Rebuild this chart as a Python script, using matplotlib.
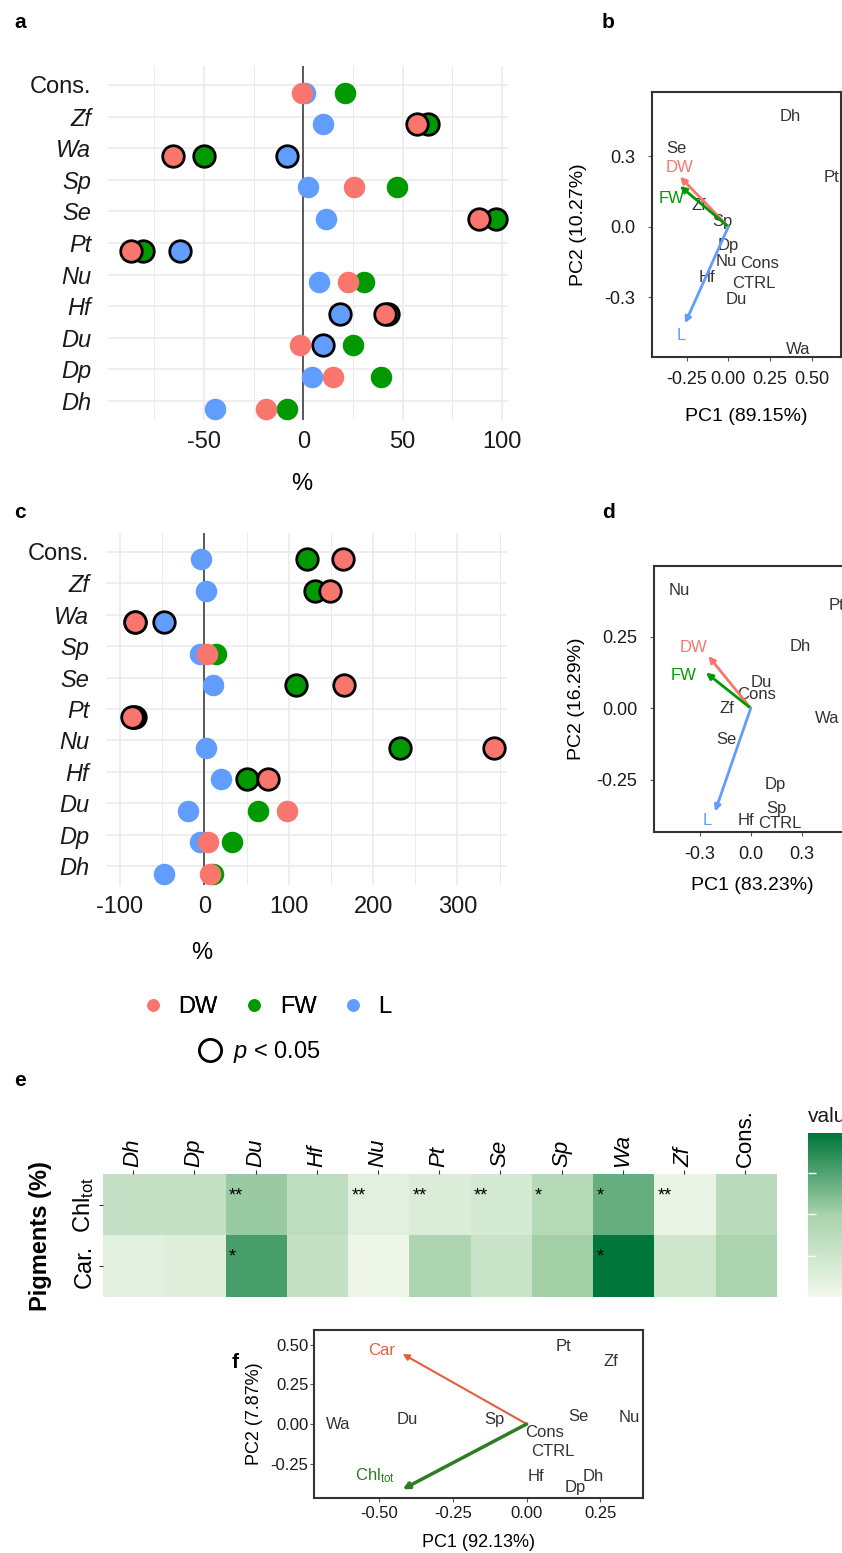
import numpy as np
import matplotlib.pyplot as plt
from matplotlib.colors import LinearSegmentedColormap
from matplotlib.lines import Line2D

plt.rcParams['font.family'] = ['Liberation Sans', 'DejaVu Sans']
plt.rcParams['mathtext.fontset'] = 'custom'
plt.rcParams['mathtext.rm'] = 'Liberation Sans'
plt.rcParams['mathtext.it'] = 'Liberation Sans:italic'
plt.rcParams['axes.unicode_minus'] = False

# ---- data ----
species = ['Dh', 'Dp', 'Du', 'Hf', 'Nu', 'Pt', 'Se', 'Sp', 'Wa', 'Zf', 'Cons.']

# panel a (% change)
a_dw = [-19, 14.8, -1.7, 41.3, 22.4, -86.7, 88.4, 25.3, -65.7, 57.3, -0.8]
a_fw = [-8.1, 39.1, 24.9, 42.4, 30.8, -80.8, 97.2, 47.2, -50.2, 62.8, 21.1]
a_l = [-44.6, 4.2, 9.8, 18.5, 8.1, -62.3, 11.3, 2.5, -8.1, 9.8, 0.9]
a_dw_sig = [0, 0, 0, 1, 0, 1, 1, 0, 1, 1, 0]
a_fw_sig = [0, 0, 0, 1, 0, 1, 1, 0, 1, 1, 0]
a_l_sig = [0, 0, 1, 1, 0, 1, 0, 0, 1, 0, 0]

# panel c (% change)
c_dw = [6.8, 4.8, 98.5, 75.2, 342.8, -86.1, 165, 3.6, -82.2, 149.1, 164.2]
c_fw = [10.7, 32.5, 64.1, 51, 231.3, -84, 108.4, 13.9, -82, 131.3, 122.2]
c_l = [-47.4, -5.1, -19.7, 19.4, 1.6, -82.2, 10.7, -5, -47.4, 1.6, -3.9]
c_dw_sig = [0, 0, 0, 1, 1, 1, 1, 0, 1, 1, 1]
c_fw_sig = [0, 0, 0, 1, 1, 1, 1, 0, 1, 1, 1]
c_l_sig = [0, 0, 0, 0, 0, 1, 0, 0, 1, 0, 0]

# panel b PCA
b_names = ['Dh', 'Se', 'Pt', 'Zf', 'Sp', 'Dp', 'Nu', 'Cons', 'Hf', 'CTRL', 'Du', 'Wa']
b_x = [0.37, -0.314, 0.62, -0.176, -0.034, 0.0, -0.014, 0.19, -0.13, 0.15, 0.046, 0.42]
b_y = [0.467, 0.333, 0.21, 0.088, 0.021, -0.081, -0.149, -0.156, -0.215, -0.24, -0.307, -0.52]
b_vars = ['DW', 'FW', 'L']
b_tip_x = [-0.29, -0.29, -0.26]
b_tip_y = [0.212, 0.173, -0.41]
b_lab_x = [-0.294, -0.34, -0.28]
b_lab_y = [0.252, 0.118, -0.46]

# panel d PCA
d_names = ['Nu', 'Pt', 'Dh', 'Du', 'Cons', 'Zf', 'Wa', 'Se', 'Dp', 'Sp', 'Hf', 'CTRL']
d_x = [-0.42, 0.504, 0.293, 0.064, 0.035, -0.14, 0.45, -0.14, 0.142, 0.149, -0.03, 0.172]
d_y = [0.412, 0.362, 0.216, 0.091, 0.047, -0.002, -0.037, -0.111, -0.269, -0.35, -0.392, -0.403]
d_vars = ['DW', 'FW', 'L']
d_tip_x = [-0.248, -0.262, -0.209]
d_tip_y = [0.183, 0.125, -0.362]
d_lab_x = [-0.336, -0.395, -0.252]
d_lab_y = [0.214, 0.114, -0.392]

# panel e heatmap
heat_cols = ['Dh', 'Dp', 'Du', 'Hf', 'Nu', 'Pt', 'Se', 'Sp', 'Wa', 'Zf', 'Cons.']
heat_rows = ['Chl$_{\\mathrm{tot}}$', 'Car.']
chl_vals = [24, 25, 43, 28, 8, 12, 16, 32, 55, 4, 30]
car_vals = [8, 10, 62, 24, 2, 37, 22, 41, 79, 20, 38]
chl_stars = ['', '', '**', '', '**', '**', '**', '*', '*', '**', '']
car_stars = ['', '', '*', '', '', '', '', '', '*', '', '']

# panel f PCA
f_names = ['Pt', 'Zf', 'Wa', 'Du', 'Sp', 'Se', 'Nu', 'Cons', 'CTRL', 'Hf', 'Dh', 'Dp']
f_x = [0.124, 0.286, -0.64, -0.404, -0.108, 0.177, 0.348, 0.062, 0.09, 0.03, 0.226, 0.166]
f_y = [0.487, 0.393, 0.0, 0.03, 0.03, 0.05, 0.042, -0.055, -0.175, -0.328, -0.328, -0.4]
f_vars = ['Car', 'Chl$_{\\mathrm{tot}}$']
f_tip_x = [-0.421, -0.421]
f_tip_y = [0.441, -0.411]
f_lab_x = [-0.492, -0.515]
f_lab_y = [0.466, -0.328]

C_DW, C_FW, C_L = '#F8766D', '#009A00', '#619CFF'

W, H = 842, 1553
fig = plt.figure(figsize=(W / 100, H / 100), dpi=100)


def box(l, t, r, b):
    return [l / W, 1 - b / H, (r - l) / W, (b - t) / H]


def dotplot(ax, dw, fw, l, dws, fws, ls, xlim, major, minor, labx, laby):
    y = np.arange(len(species))
    for vals, sig, col in [(l, ls, C_L), (fw, fws, C_FW), (dw, dws, C_DW)]:
        vals = np.array(vals, float)
        sig = np.array(sig, bool)
        ax.scatter(vals[~sig], y[~sig] - 0.24, s=240, color=col, lw=0, zorder=3)
        ax.scatter(vals[sig], y[sig] - 0.24, s=240, color=col, edgecolor='black', lw=2, zorder=3)
    ax.axvline(0, color='#4D4D4D', lw=1.3, zorder=2)
    ax.set_xlim(*xlim)
    ax.set_ylim(-0.6, len(species) - 0.4)
    ax.set_xticks(major)
    ax.set_xticks(minor, minor=True)
    ax.set_yticks(y)
    ax.set_yticklabels(species)
    for t in ax.get_yticklabels():
        if t.get_text() != 'Cons.':
            t.set_style('italic')
    ax.grid(which='major', color='#EBEBEB', lw=1.2)
    ax.grid(which='minor', axis='x', color='#EBEBEB', lw=0.7)
    ax.set_axisbelow(True)
    for s in ax.spines.values():
        s.set_visible(False)
    ax.tick_params(which='both', length=0, labelsize=17, colors='#1a1a1a')
    ax.tick_params(axis='x', pad=8)
    ax.tick_params(axis='y', pad=12)
    ax.set_xlabel('%', fontsize=17)
    ax.xaxis.set_label_coords(labx, laby)


def biplot(ax, names, px, py, vnames, tx, ty, lx, ly, vcols, xlim, ylim, xt, yt, xfmt, yfmt,
           xlab, ylab, xl_pos, yl_pos, fs, lws, tick_fs, xpad, ypad, title_fs):
    for n, x, y in zip(names, px, py):
        ax.text(x, y, n, ha='center', va='center', fontsize=fs, color='#333333')
    for n, x, y, a, b, c, lw in zip(vnames, tx, ty, lx, ly, vcols, lws):
        ax.annotate('', xy=(x, y), xytext=(0, 0),
                    arrowprops=dict(arrowstyle='-|>', color=c, lw=lw, mutation_scale=9,
                                    shrinkA=0, shrinkB=0))
        ax.text(a, b, n, ha='center', va='center', fontsize=fs, color=c)
    ax.set_xlim(*xlim)
    ax.set_ylim(*ylim)
    ax.set_xticks(xt)
    ax.set_yticks(yt)
    ax.set_xticklabels([xfmt % v for v in xt])
    ax.set_yticklabels([yfmt % v for v in yt])
    for s in ax.spines.values():
        s.set_linewidth(1.5)
        s.set_color('#333333')
    ax.tick_params(length=3, color='#555555', labelsize=tick_fs, labelcolor='#1a1a1a')
    ax.tick_params(axis='x', pad=xpad)
    ax.tick_params(axis='y', pad=ypad)
    ax.set_xlabel(xlab, fontsize=title_fs)
    ax.set_ylabel(ylab, fontsize=title_fs)
    ax.xaxis.set_label_coords(*xl_pos)
    ax.yaxis.set_label_coords(*yl_pos)


# panel a
ax_a = fig.add_axes(box(108, 66, 508, 420))
dotplot(ax_a, a_dw, a_fw, a_l, a_dw_sig, a_fw_sig, a_l_sig, (-98.4, 103.1),
        [-50, 0, 50, 100], [-75, -25, 25, 75], 0.484, -0.15)

# panel c
ax_c = fig.add_axes(box(106, 533, 506.7, 885))
dotplot(ax_c, c_dw, c_fw, c_l, c_dw_sig, c_fw_sig, c_l_sig, (-116.5, 358.3),
        [-100, 0, 100, 200, 300], [-50, 50, 150, 250, 350], 0.239, -0.161)

# panel b
ax_b = fig.add_axes(box(651.7, 91.7, 840.5, 357.3))
biplot(ax_b, b_names, b_x, b_y, b_vars, b_tip_x, b_tip_y, b_lab_x, b_lab_y,
       [C_DW, C_FW, C_L], (-0.46, 0.673), (-0.554, 0.573),
       [-0.25, 0, 0.25, 0.5], [-0.3, 0, 0.3], '%.2f', '%.1f',
       'PC1 (89.15%)', 'PC2 (10.27%)', (0.5, -0.19), (-0.343, 0.5), 12, [2, 2, 2],
       13, 7, 9, 14)

# panel d
ax_d = fig.add_axes(box(654, 565.7, 850, 832.3))
biplot(ax_d, d_names, d_x, d_y, d_vars, d_tip_x, d_tip_y, d_lab_x, d_lab_y,
       [C_DW, C_FW, C_L], (-0.567, 0.582), (-0.435, 0.5),
       [-0.3, 0, 0.3], [-0.25, 0, 0.25], '%.1f', '%.2f',
       'PC1 (83.23%)', 'PC2 (16.29%)', (0.5, -0.169), (-0.352, 0.5), 12, [2, 2, 2],
       13, 7, 9, 14)

# legend
leg1 = fig.legend(handles=[Line2D([], [], marker='o', ls='', color=c, markersize=8)
                           for c in [C_DW, C_FW, C_L]],
                  labels=['DW', 'FW', 'L'], ncol=3, loc='center left',
                  bbox_to_anchor=(141 / W, 1 - 1007 / H), frameon=False, fontsize=17,
                  borderpad=0, borderaxespad=0, handlelength=1.0, handletextpad=0.57,
                  columnspacing=1.07)
fig.add_artist(leg1)
fig.legend(handles=[Line2D([], [], marker='o', ls='', markerfacecolor='none',
                           markeredgecolor='black', markeredgewidth=2, markersize=16)],
           labels=['$p$ < 0.05'], loc='center left',
           bbox_to_anchor=(198 / W, 1 - 1052 / H), frameon=False, fontsize=17,
           borderpad=0, borderaxespad=0, handlelength=1.0, handletextpad=0.49)

# panel e heatmap
ax_e = fig.add_axes(box(102.5, 1174, 775.7, 1297.3))
cmap = LinearSegmentedColormap.from_list('grn', ['#F1F8EC', '#A9D3AC', '#00763A'])
heat = np.array([chl_vals, car_vals], float)
im = ax_e.imshow(heat, cmap=cmap, aspect='auto', vmin=0, vmax=79)
for i, row in enumerate([chl_stars, car_stars]):
    for j, s in enumerate(row):
        if s:
            ax_e.text(j - 0.43, i - 0.15, s, ha='left', va='center', fontsize=13, color='black')
ax_e.xaxis.tick_top()
ax_e.set_xticks(np.arange(len(heat_cols)))
ax_e.set_xticklabels(heat_cols, rotation=90, fontsize=16, va='bottom', ha='center')
for t in ax_e.get_xticklabels():
    if t.get_text() != 'Cons.':
        t.set_style('italic')
ax_e.set_yticks([0, 1])
ax_e.set_yticklabels(heat_rows, rotation=90, fontsize=17, va='center')
ax_e.tick_params(length=3, color='#333333', pad=2)
for s in ax_e.spines.values():
    s.set_visible(False)
ax_e.set_ylabel('Pigments (%)', fontsize=17, fontweight='bold')
ax_e.yaxis.set_label_coords(-0.075, 0.5)

# colorbar (its right part, with the labels, falls outside the figure)
cax = fig.add_axes(box(808.3, 1133.3, 850, 1297.3))
cb = fig.colorbar(im, cax=cax, ticks=[20, 40, 60])
cb.outline.set_visible(False)
cax.yaxis.set_ticks_position('both')
cax.tick_params(direction='in', color='white', length=6, width=1,
                labelright=False, labelleft=False)
cax.set_title('value', loc='left', fontsize=15, pad=8, color='#1a1a1a')

# panel f
ax_f = fig.add_axes(box(314, 1330, 643.3, 1497.7))
biplot(ax_f, f_names, f_x, f_y, f_vars, f_tip_x, f_tip_y, f_lab_x, f_lab_y,
       ['#E4603A', '#2E7D24'], (-0.722, 0.396), (-0.464, 0.592),
       [-0.5, -0.25, 0, 0.25], [-0.25, 0, 0.25, 0.5], '%.2f', '%.2f',
       'PC1 (92.13%)', 'PC2 (7.87%)', (0.5, -0.215), (-0.154, 0.5), 12, [1.5, 2.5],
       12, 3, 1, 13)

# panel letters
for lab, x, y in [('a', 14, 22), ('b', 602, 22), ('c', 14, 512), ('d', 602, 512),
                  ('e', 14, 1080), ('f', 232, 1362)]:
    fig.text(x / W, 1 - y / H, lab, fontsize=15, fontweight='bold', ha='left', va='center')

fig.savefig('out.png', dpi=100)
